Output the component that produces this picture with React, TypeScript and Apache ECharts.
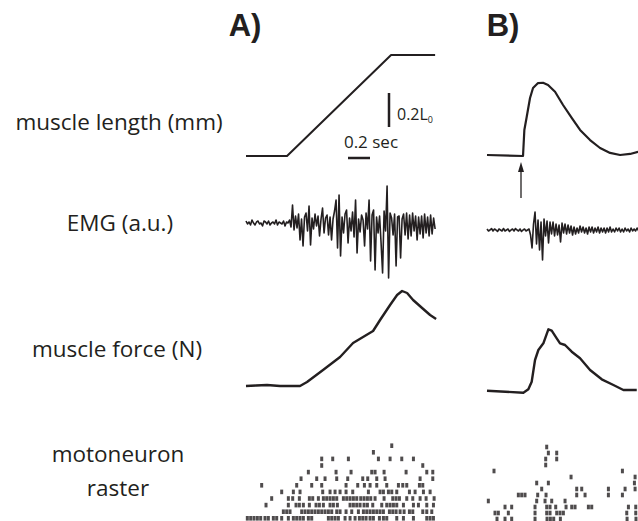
import React, { useEffect, useRef } from "react";
import * as echarts from "echarts";

// ---------- data (time in ms) ----------
const lengthA: [number, number][] = [
  [0, 0], [369, 0], [1305, 0.594], [1701, 0.594],
];
const lengthB: [number, number][] = [
  [0, 0.006], [324, 0], [336, 0.153], [357, 0.229], [387, 0.341], [414, 0.4],
  [459, 0.429], [504, 0.431], [549, 0.418], [612, 0.378], [684, 0.3],
  [762, 0.224], [837, 0.153], [927, 0.094], [1017, 0.047], [1107, 0.018],
  [1197, 0.006], [1287, 0.012], [1359, 0.025],
];

const emgStepMs = 13.5;
const emgA: number[] = [
  2, -1, 1, -2, 3, 0, -2, 1, 2, -1, 0, -3, 2, 1, -1, 2, -2, 0, 1, -1, 3, -2, 1, 0, -1, 2, -3, 1, 0,
  3, -4, 18, -7, 7, -5, 9, -17, 4, -23, 6, 10, -8, 17, -22, 5, -6, 9, -3, 7, -13, 4, 15, -10, 5, 8,
  -12, 6, -17, 4, 12, 23, -25, 28, -33, 6, -10, 9, 13, -20, 5, -8, 11, -14, 23, -30, 4, -9, 8, 3,
  -23, 10, -6, 23, -38, 8, 13, -47, 6, -10, 7, -20, -50, 12, -8, 37, -55, 10, 5, -12, 9, -43, 6, 7,
  -35, 4, 9, -12, 10, -16, 8, -13, 10, -8, 7, -17, 6, -11, 7, -15, 9, -10, 6, -13, 8, -11, 5, -6,
];
const emgB: number[] = [
  1, -1, 0, 1.5, -1, 1, 0, -1.5, 1, 0, -1, 1.5, -1, 0, 1, -1.5, 0, 1, -1, 1.5, 0, -1, 1, -1.5, 0, 1, -1, 0, 1,
  -5, -18, 6, 18, -14, 10, -20, 8, -30, 11, -6, 9, -13, 8, -4, 8, -6, 6, -5, 5, -12, 7, -3, 6, -4, 5, -3, 4, -5,
  3, -4, 2, -3, 4, -2, 3, -3, 2, -4, 3, -2, 3, -3, 2, -2, 3, -3, 2, -2, 2, -3, 2, -2, 3, -2, 1, -2, 2, -1,
  2, -2, 1, -2, 2, -1, 1, -2, 2, -1, 1, -1, 2, -1,
];

const forceA: [number, number][] = [
  [0, 0], [90, 0.5], [189, 1], [306, 0], [486, 0], [549, 4], [693, 16], [846, 29],
  [963, 43], [1053, 49], [1143, 55], [1206, 66], [1296, 81], [1359, 91], [1404, 95],
  [1449, 93], [1503, 86], [1584, 78], [1656, 71], [1710, 67],
];
const forceB: [number, number][] = [
  [0, 2.3], [327, 0.3], [372, 3.7], [402, 11.3], [432, 33], [462, 43], [507, 49.7],
  [552, 63.7], [582, 62.3], [627, 54.7], [657, 49.7], [702, 48], [762, 41.3], [837, 34.7],
  [927, 23], [1032, 13.7], [1137, 8], [1227, 3], [1347, 3],
];

// spike times (ms), row 0 = bottom
const rasterA: number[][] = [
  [12, 42, 72, 102, 132, 171, 201, 246, 276, 321, 381, 426, 456, 486, 516, 561, 591, 741, 771, 801, 831, 891, 936, 981, 1020, 1050, 1080, 1116, 1146, 1200, 1236, 1266, 1356, 1416, 1506, 1626, 1656, 1686],
  [336, 366, 396, 501, 531, 561, 591, 621, 651, 681, 711, 741, 771, 816, 846, 900, 951, 1011, 1056, 1086, 1116, 1146, 1176, 1206, 1236, 1290, 1320, 1350, 1386, 1422, 1470, 1500, 1590, 1626, 1671],
  [180, 381, 450, 480, 516, 570, 630, 660, 696, 756, 786, 822, 936, 966, 996, 1026, 1062, 1092, 1140, 1221, 1266, 1296, 1326, 1356, 1416, 1506, 1551, 1626, 1686],
  [231, 381, 420, 480, 570, 600, 651, 696, 726, 756, 786, 816, 876, 906, 936, 966, 996, 1032, 1062, 1092, 1122, 1161, 1242, 1320, 1350, 1380, 1446, 1500, 1566, 1620, 1692],
  [321, 426, 486, 690, 756, 801, 846, 900, 960, 1101, 1206, 1236, 1281, 1311, 1356, 1470, 1521, 1596, 1656],
  [141, 456, 591, 681, 900, 1005, 1065, 1116, 1176, 1266, 1371, 1410, 1446, 1560, 1590],
  [495, 636, 711, 816, 915, 1050, 1095, 1176, 1251, 1566, 1680],
  [561, 810, 945, 1131, 1161, 1242, 1440, 1626, 1680],
  [681, 1590],
  [681, 780, 921, 1191, 1296, 1401, 1506],
  [1146],
  [1311],
];
const rasterB: number[][] = [
  [90, 162, 222, 432, 540, 570, 600, 660, 1260, 1340],
  [72, 102, 192, 432, 537, 567, 627, 657, 687, 1257, 1338],
  [162, 222, 432, 537, 567, 618, 711, 762, 792, 912, 942, 1272, 1338],
  [12, 447, 522, 582, 702],
  [282, 312, 342, 456, 531, 807, 882, 1092, 1218],
  [492, 807, 852, 1092, 1242, 1332],
  [447, 552, 1326],
  [756, 1332],
  [63, 1218],
  [528],
  [528, 627],
  [552, 627],
  [537],
];

const INK = "#231f20";

function rasterPoints(rows: number[][]): [number, number][] {
  const out: [number, number][] = [];
  rows.forEach((row, i) => row.forEach((t) => out.push([t, i])));
  return out;
}

export default function App() {
  const ref = useRef<HTMLDivElement>(null);
  useEffect(() => {
    document.body.style.margin = "0";
    if (!ref.current) return;
    const chart = echarts.init(ref.current, null, { renderer: "svg" });

    const grids = [
      { left: 246, top: 37, width: 189, height: 119 },
      { left: 487, top: 37, width: 189, height: 119 },
      { left: 246, top: 163, width: 189, height: 120 },
      { left: 487, top: 170, width: 189, height: 120 },
      { left: 246, top: 286, width: 189, height: 100 },
      { left: 487, top: 293, width: 189, height: 100 },
      { left: 246, top: 442.4, width: 189, height: 79.2 },
      { left: 487, top: 444, width: 189, height: 78 },
    ].map((g) => ({ ...g, outerBoundsMode: "none", show: false }));

    const yRanges = [
      [0, 0.7], [0, 0.7], [-60, 60], [-60, 60], [0, 100], [0, 100], [-0.5, 11.5], [-0.5, 12.5],
    ];

    const xAxis = grids.map((_, i) => ({
      type: "value", gridIndex: i, min: 0, max: 1700, show: false,
    }));
    const yAxis = grids.map((_, i) => ({
      type: "value", gridIndex: i, min: yRanges[i][0], max: yRanges[i][1], show: false,
    }));

    const lineSeries = (i: number, data: [number, number][], w: number) => ({
      type: "line",
      xAxisIndex: i,
      yAxisIndex: i,
      data,
      showSymbol: false,
      symbol: "none",
      clip: false,
      lineStyle: { color: INK, width: w, join: "round" },
    });
    const emgData = (v: number[]): [number, number][] => v.map((y, k) => [k * emgStepMs, y]);

    const labelFont = { fontFamily: "Open Sans", fontSize: 22.5, fill: INK };

    chart.setOption({
      animation: false,
      grid: grids,
      xAxis,
      yAxis,
      series: [
        lineSeries(0, lengthA, 2),
        lineSeries(1, lengthB, 2.2),
        lineSeries(2, emgData(emgA), 1.6),
        lineSeries(3, emgData(emgB), 1.6),
        lineSeries(4, forceA, 2.4),
        lineSeries(5, forceB, 2.4),
        {
          type: "scatter", xAxisIndex: 6, yAxisIndex: 6, data: rasterPoints(rasterA),
          symbol: "rect", symbolSize: [3, 4.6], itemStyle: { color: INK },
        },
        {
          type: "scatter", xAxisIndex: 7, yAxisIndex: 7, data: rasterPoints(rasterB),
          symbol: "rect", symbolSize: [3, 4.6], itemStyle: { color: INK },
        },
      ],
      graphic: [
        { type: "text", x: 245, y: 25, style: { text: "A)", font: "bold 31px Liberation Sans", fill: INK, textAlign: "center", textVerticalAlign: "middle" } },
        { type: "text", x: 503, y: 25, style: { text: "B)", font: "bold 31px Liberation Sans", fill: INK, textAlign: "center", textVerticalAlign: "middle" } },
        { type: "text", x: 119, y: 121, style: { text: "muscle length (mm)", ...labelFont, textAlign: "center", textVerticalAlign: "middle" } },
        { type: "text", x: 120, y: 222, style: { text: "EMG (a.u.)", ...labelFont, textAlign: "center", textVerticalAlign: "middle" } },
        { type: "text", x: 117, y: 348, style: { text: "muscle force (N)", ...labelFont, textAlign: "center", textVerticalAlign: "middle" } },
        { type: "text", x: 118, y: 453, style: { text: "motoneuron", ...labelFont, textAlign: "center", textVerticalAlign: "middle" } },
        { type: "text", x: 118, y: 487, style: { text: "raster", ...labelFont, textAlign: "center", textVerticalAlign: "middle" } },
        // scale bars
        { type: "line", shape: { x1: 389, y1: 93, x2: 389, y2: 127 }, style: { stroke: INK, lineWidth: 2.5 } },
        { type: "line", shape: { x1: 348, y1: 158, x2: 370, y2: 158 }, style: { stroke: INK, lineWidth: 2.5 } },
        {
          type: "text", x: 397, y: 114,
          style: {
            text: "{a|0.2L}{s|0}",
            textVerticalAlign: "middle",
            rich: {
              a: { fontFamily: "Open Sans", fontSize: 16, fill: INK, color: INK },
              s: { fontFamily: "Open Sans", fontSize: 9, fill: INK, color: INK, padding: [10, 0, 0, 0] },
            },
          },
        },
        { type: "text", x: 371, y: 141, style: { text: "0.2 sec", fontFamily: "Open Sans", fontSize: 17, fill: INK, textAlign: "center", textVerticalAlign: "middle" } },
        // arrow
        { type: "line", shape: { x1: 521, y1: 198, x2: 521, y2: 170 }, style: { stroke: INK, lineWidth: 1.3 } },
        { type: "polygon", shape: { points: [[521, 162], [518, 172], [524, 172]] }, style: { fill: INK } },
      ],
    });
    return () => chart.dispose();
  }, []);
  return <div ref={ref} style={{ width: 638, height: 521 }} />;
}
